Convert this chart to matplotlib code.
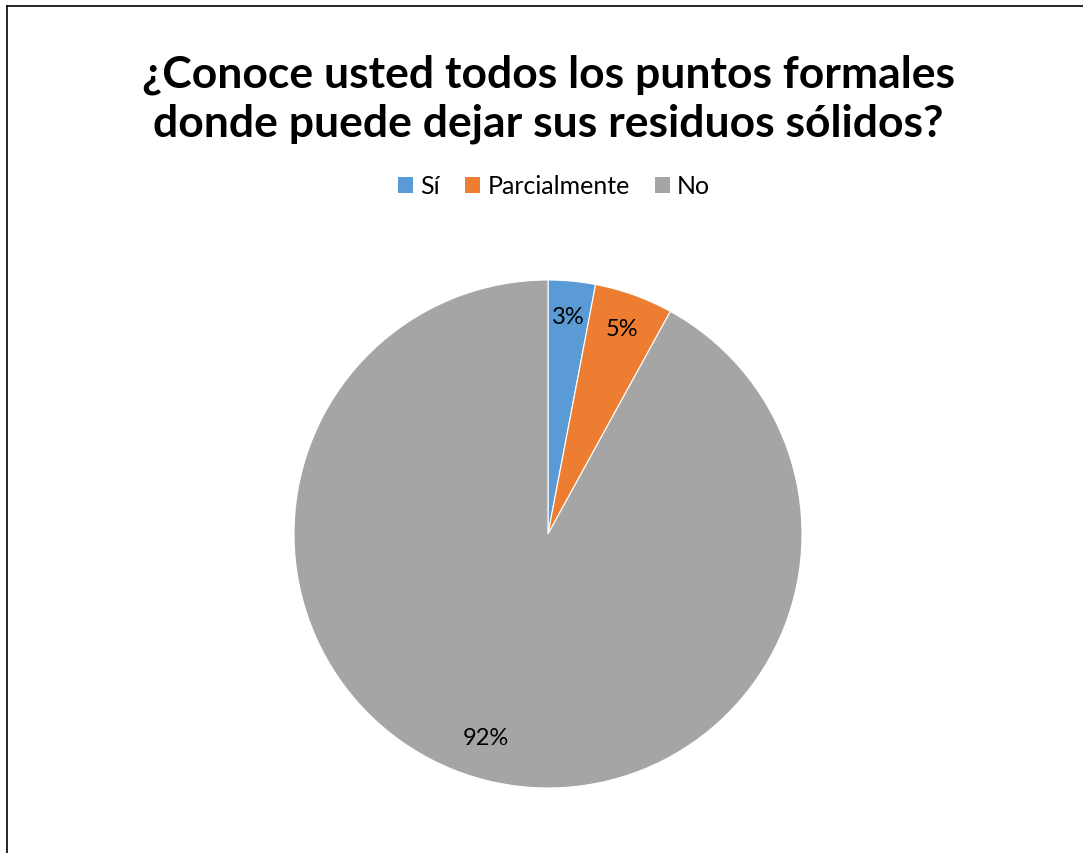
import matplotlib.pyplot as plt
from matplotlib.lines import Line2D
from matplotlib.patches import Patch

labels = ['Sí', 'Parcialmente', 'No']
values = [3, 5, 92]
colors = ['#5B9BD5', '#ED7D31', '#A5A5A5']

plt.rcParams['font.family'] = ['Lato', 'DejaVu Sans']

W, H = 1083, 854
fig = plt.figure(figsize=(W / 100, H / 100), dpi=100)

# frame lines (top and left only)
fig.add_artist(Line2D([6.5 / W, 1], [1 - 6.5 / H, 1 - 6.5 / H], color='black', lw=1.2))
fig.add_artist(Line2D([6.5 / W, 6.5 / W], [0, 1 - 6.5 / H], color='black', lw=1.2))

cx, cy, r = 548, H - 535, 254
ax = fig.add_axes([(cx - r) / W, (cy - r) / H, 2 * r / W, 2 * r / H])
wedges, texts, autotexts = ax.pie(values, colors=colors, startangle=90, counterclock=False,
                                  autopct='%1.0f%%', pctdistance=0.86,
                                  wedgeprops={'edgecolor': 'white', 'linewidth': 0.8},
                                  textprops={'fontsize': 17, 'color': 'black'})
# the big slice label sits a bit further in, like in Excel
x, y = autotexts[2].get_position()
autotexts[2].set_position((x * 0.96 - 0.04, y * 0.96))
ax.set_xlim(-1, 1)
ax.set_ylim(-1, 1)
ax.set_aspect('equal')
ax.axis('off')

fig.text(548 / W, 1 - 99 / H, '¿Conoce usted todos los puntos formales\ndonde puede dejar sus residuos sólidos?',
         ha='center', va='center', fontsize=32, fontweight='bold', linespacing=1.25)

handles = [Patch(facecolor=c, edgecolor='none') for c in colors]
fig.legend(handles, labels, loc='center', bbox_to_anchor=(554 / W, 1 - 187 / H), ncol=3,
           frameon=False, fontsize=18, handlelength=0.6, handleheight=0.6,
           handletextpad=0.3, columnspacing=1.0)

fig.savefig('out.png', dpi=100)
